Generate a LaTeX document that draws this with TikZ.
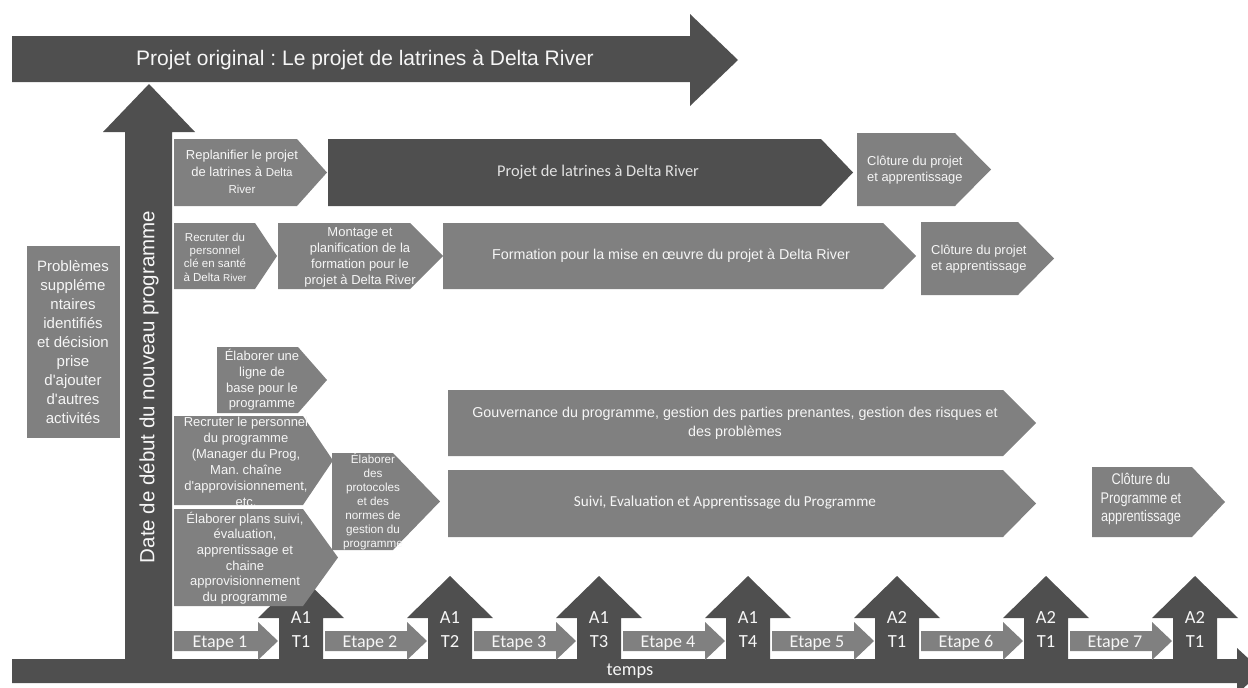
\documentclass[tikz,border=0pt]{standalone}
\usepackage{fontspec}
\setmainfont[Ligatures=TeXOff]{Liberation Sans}
\newfontfamily\calfont{Carlito}
\newfontfamily\narrowfont[FakeStretch=0.82]{Liberation Sans}
\frenchspacing

\definecolor{darkgrey}{RGB}{79,79,79}
\definecolor{midgrey}{RGB}{128,128,128}
\definecolor{lighttext}{RGB}{246,246,246}

\tikzset{
  dark/.style={fill=darkgrey},
  mid/.style={fill=midgrey},
  lbl/.style={text=lighttext, inner sep=0pt, align=center},
  lbll/.style={text=lighttext, inner sep=0pt, align=left},
}

% chevron: style, left, top, bottom, x where the point starts, x of the tip
\newcommand{\chevron}[6]{%
  \fill[#1] (#2,#3) -- (#5,#3) -- (#6,{(#3+#4)/2}) -- (#5,#4) -- (#2,#4) -- cycle;}

\begin{document}
\begin{tikzpicture}[x=1pt,y=-1pt]
\useasboundingbox (0,0) rectangle (1248,688);
\clip (0,0) rectangle (1248,688);

% original project arrow
\fill[dark] (12,36) -- (690,36) -- (690,14) -- (738,60) -- (690,106) -- (690,82) -- (12,82) -- cycle;
\node[lbl, font=\fontsize{21}{25}\selectfont] (orig) at (365,60)
  {Projet original : Le projet de latrines à Delta River};

% time axis
\fill[dark] (12,659) -- (1237,659) -- (1237,648) -- (1262,671) -- (1237,694) -- (1237,683) -- (12,683) -- cycle;
\node[lbl, font=\calfont\fontsize{18.4}{22}\selectfont] (temps) at (630,671) {temps};

% programme start arrow
\fill[dark] (125,660) -- (125,132) -- (103,132) -- (149,84) -- (195,132) -- (172,132) -- (172,660) -- cycle;
\node[lbl, rotate=90, font=\fontsize{20.5}{24}\selectfont] (start) at (149,387)
  {Date de début du nouveau programme};

% milestones
\foreach \cx/\a/\t [count=\i] in {301/A1/T1, 450/A1/T2, 599/A1/T3, 748/A1/T4, 897/A2/T1, 1046/A2/T1, 1195/A2/T1} {
  \fill[dark] (\cx-22,660) -- (\cx-22,618) -- (\cx-43,618) -- (\cx,576) -- (\cx+43,618)
     -- (\cx+22,618) -- (\cx+22,660) -- cycle;
  \node[lbl, font=\calfont\fontsize{18.5}{22}\selectfont, anchor=base] (ms\i a) at (\cx,623.5) {\a};
  \node[lbl, font=\calfont\fontsize{18.5}{22}\selectfont, anchor=base] (ms\i t) at (\cx,647.5) {\t};
}

% stages between milestones
\foreach \s/\e [count=\i] in {174/278, 325/427, 474/576, 623/725, 772/874, 921/1023, 1070/1172} {
  \fill[mid] (\s,631) -- (\e-20,631) -- (\e-20,622) -- (\e,641) -- (\e-20,660) -- (\e-20,651) -- (\s,651) -- cycle;
  \node[lbl, font=\calfont\fontsize{18}{22}\selectfont, anchor=base] (etape\i) at ({(\s+\e-20)/2+4},647.5) {Etape \i};
}

% side note
\fill[mid] (27,246) rectangle (120,438);
\node[lbl, font=\fontsize{15}{18.9}\selectfont] (problemes) at (73,342)
  {Problèmes\\suppléme\\ntaires\\identifiés\\et décision\\prise\\d'ajouter\\d'autres\\activités};

% row 1
\chevron{mid}{174}{139}{206}{297}{327}
\node[lbl, font=\fontsize{13}{16.7}\selectfont] (replan) at (242,172)
  {Replanifier le projet\\de latrines à {\fontsize{11.5}{16.7}\selectfont Delta}\\{\fontsize{11.5}{16.7}\selectfont River}};
\chevron{dark}{328}{139}{206}{821}{853}
\node[lbl, text=lighttext!92!black, font=\calfont\fontsize{16.4}{20}\selectfont] (latrines) at (598,172)
  {Projet de latrines à Delta River};
\chevron{mid}{857}{133}{206}{955}{991}
\node[lbll, font=\fontsize{12.9}{15.7}\selectfont, anchor=west] (clot1) at (867,170)
  {Clôture du projet\\et apprentissage};

% row 2
\chevron{mid}{174}{223}{289}{255}{277}
\node[lbl, font=\fontsize{11.5}{13.4}\selectfont] (recrut1) at (215,257)
  {Recruter du\\personnel\\clé en santé\\à Delta {\fontsize{10}{13.4}\selectfont River}};
\chevron{mid}{278}{223}{289}{410}{443}
\node[lbl, font=\fontsize{13}{16}\selectfont] (montage) at (360,257)
  {Montage et\\planification de la\\formation pour le\\projet à Delta River};
\chevron{mid}{443}{223}{289}{883}{916}
\node[lbl, font=\fontsize{14.3}{17}\selectfont] (formation) at (671,256)
  {Formation pour la mise en œuvre du projet à Delta River};
\chevron{mid}{921}{222}{295}{1018}{1054}
\node[lbll, font=\fontsize{12.9}{15.7}\selectfont, anchor=west] (clot2) at (931,259)
  {Clôture du projet\\et apprentissage};

% programme set-up activities
\chevron{mid}{217}{347}{413}{298}{327}
\node[lbl, font=\fontsize{13}{15.8}\selectfont] (ligne) at (262,380)
  {Élaborer une\\ligne de\\base pour le\\programme};
\chevron{mid}{174}{416}{505}{303}{333}
\node[lbl, font=\fontsize{13}{16}\selectfont] (recrut2) at (246,462)
  {Recruter le personnel\\du programme\\(Manager du Prog,\\Man. chaîne\\d'approvisionnement,\\etc.};
\chevron{mid}{174}{509}{606}{303}{338}
\node[lbl, font=\fontsize{13}{15.7}\selectfont] (plans) at (245,558)
  {Élaborer plans suivi,\\évaluation,\\apprentissage et\\chaine\\approvisionnement\\du programme};
\chevron{mid}{332}{453}{550}{393}{440}
\node[lbl, font=\fontsize{11.7}{14}\selectfont] (protocoles) at (373,502)
  {Élaborer\\des\\protocoles\\et des\\normes de\\gestion du\\programme};

% programme-level activities
\chevron{mid}{448}{390}{456}{1003}{1036}
\node[lbl, font=\fontsize{14.3}{19}\selectfont] (gouv) at (735,423)
  {Gouvernance du programme, gestion des parties prenantes, gestion des risques et\\des problèmes};
\chevron{mid}{448}{470}{537}{1003}{1036}
\node[lbl, font=\calfont\fontsize{15.2}{18}\selectfont] (suivi) at (725,503)
  {Suivi, Evaluation et Apprentissage du Programme};
\chevron{mid}{1092}{467}{537}{1192}{1225}
\node[lbl, font=\narrowfont\fontsize{15.5}{18.5}\selectfont] (clotprog) at (1141,499)
  {Clôture du\\Programme et\\apprentissage};

\end{tikzpicture}
\end{document}
